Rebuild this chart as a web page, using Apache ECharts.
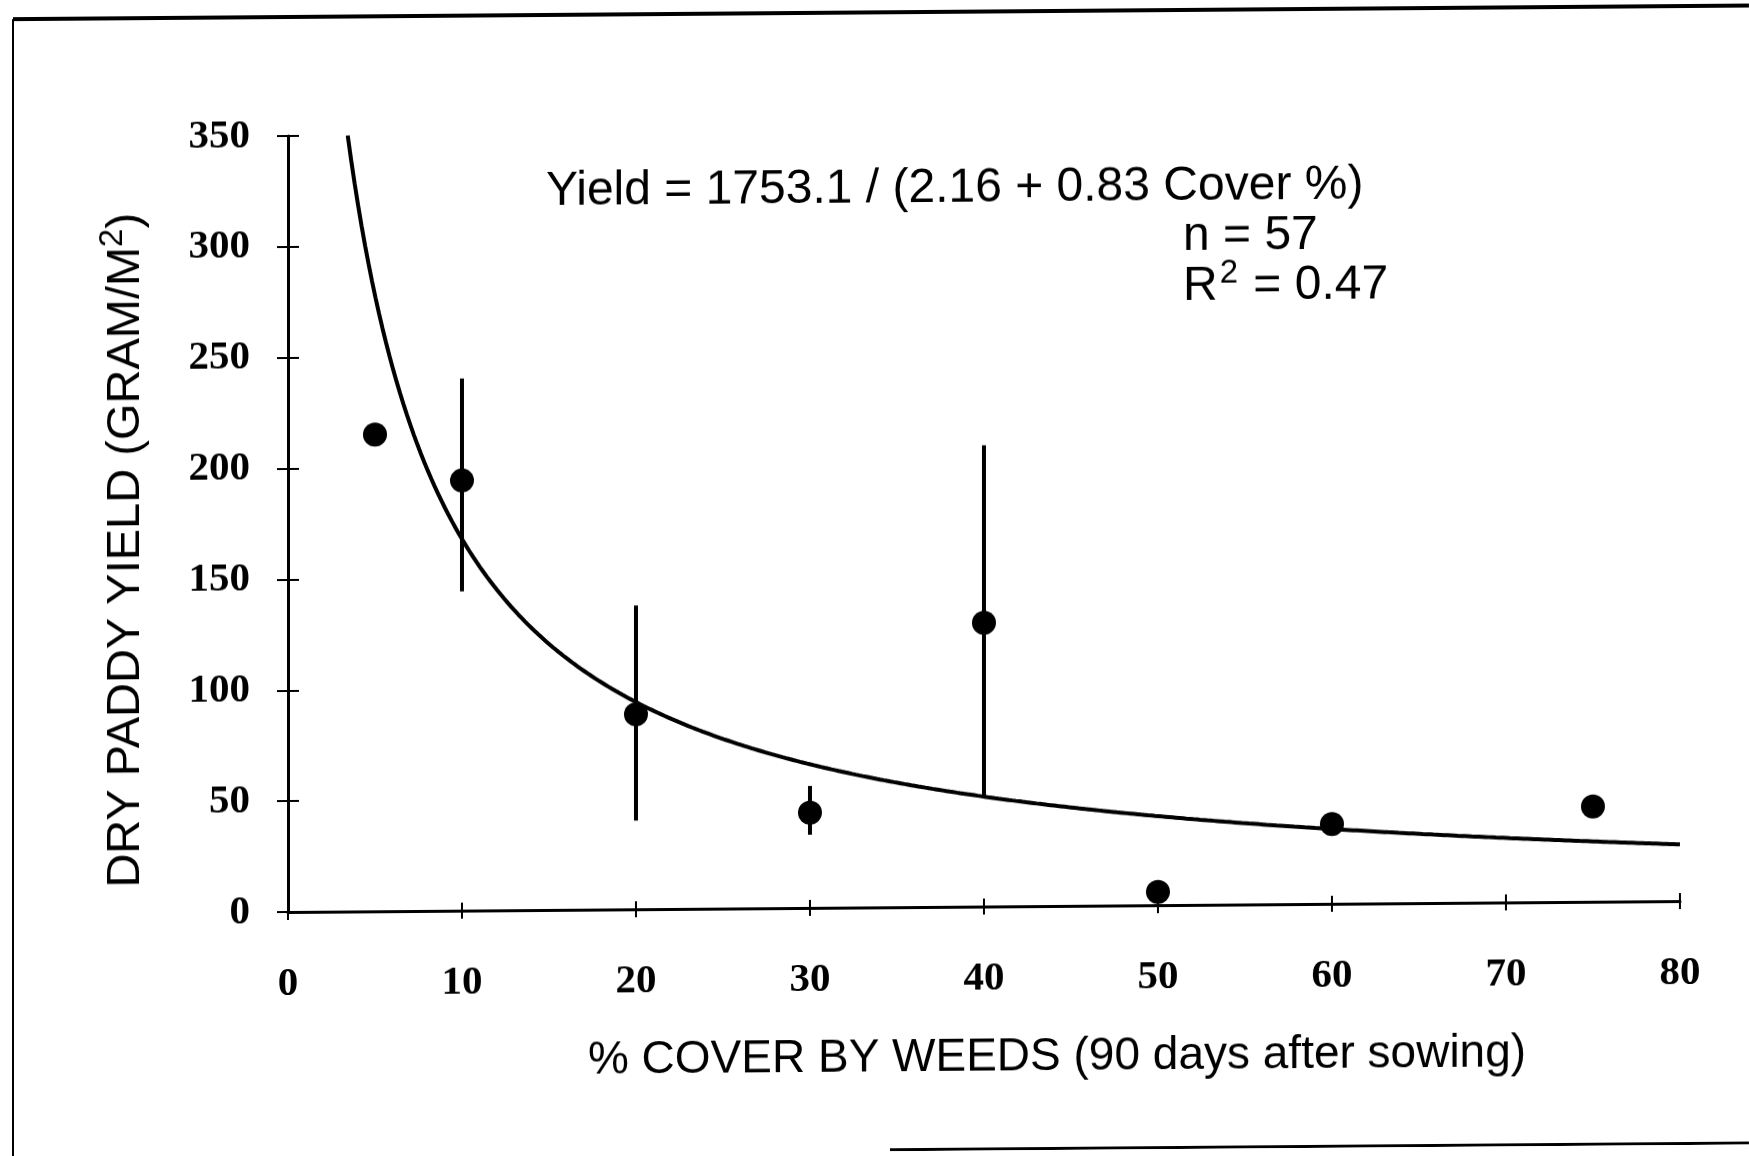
<!DOCTYPE html>
<html>
<head>
<meta charset="utf-8">
<script src="https://cdn.jsdelivr.net/npm/echarts@6/dist/echarts.min.js"></script>
<style>
  html, body { margin: 0; padding: 0; background: #ffffff; }
  #chart {
    width: 1749px; height: 1156px;
    /* the printed figure leans slightly: right side sits higher */
    transform: skewY(-0.45deg);
    transform-origin: 288px 912px;
  }
</style>
</head>
<body>
<div id="chart"></div>
<script>
// Mean dry paddy yield per weed-cover class
const cover = [5, 10, 20, 30, 40, 50, 60, 75];
const yieldMean = [215, 194, 88, 43, 128, 6, 36, 43];
// Range bars (only some classes have them)
const barCover = [10, 20, 30, 40];
const barLow = [144, 40, 33, 50];
const barHigh = [240, 137, 55, 208];

// Fitted model: Yield = A / (B + C * Cover%)
const fitA = 1753.1;
const fitB = 2.16;
const fitC = 0.83;
const fitN = 57;
const fitR2 = 0.47;

const xTicks = [0, 10, 20, 30, 40, 50, 60, 70, 80];
const yTicks = [0, 50, 100, 150, 200, 250, 300, 350];

const xMin = xTicks[0], xMax = xTicks[xTicks.length - 1];
const yMin = yTicks[0], yMax = yTicks[yTicks.length - 1];

// Curve drawn from the fitted equation, starting where it enters the plot top
const curve = [];
const xStart = (fitA / yMax - fitB) / fitC;
for (let x = xStart; x <= xMax + 1e-9; x += 0.2) {
  curve.push([x, fitA / (fitB + fitC * x)]);
}
curve.push([xMax, fitA / (fitB + fitC * xMax)]);

const points = cover.map((c, i) => [c, yieldMean[i]]);
const bars = barCover.map((c, i) => [c, barLow[i], barHigh[i]]);

const chart = echarts.init(document.getElementById('chart'), null, { renderer: 'canvas' });

const tickFont = {
  fontFamily: '"Liberation Serif", "Times New Roman", serif',
  fontWeight: 'bold',
  fontSize: 41,
  color: '#000'
};
const sansFont = '"Liberation Sans", Arial, Helvetica, sans-serif';

const axisLineStyle = { color: '#000', width: 3 };

chart.setOption({
  backgroundColor: '#ffffff',
  animation: false,
  grid: { left: 288, right: 69, top: 136, bottom: 244 },
  xAxis: [
    {
      type: 'value', position: 'bottom', min: xMin, max: xMax, interval: 10,
      axisLine: { show: true, lineStyle: axisLineStyle },
      axisTick: { show: true, inside: false, length: 8, lineStyle: { color: '#000', width: 2 } },
      splitLine: { show: false },
      axisLabel: Object.assign({ margin: 52 }, tickFont),
      name: '% COVER BY WEEDS (90 days after sowing)',
      nameLocation: 'middle',
      nameGap: 128,
      nameTextStyle: { fontFamily: sansFont, fontSize: 46, color: '#000', padding: [0, 0, 0, 146] }
    },
    {
      type: 'value', position: 'bottom', min: xMin, max: xMax, interval: 10,
      axisLine: { show: false },
      axisTick: { show: true, inside: true, length: 8, lineStyle: { color: '#000', width: 2 } },
      splitLine: { show: false },
      axisLabel: { show: false }
    }
  ],
  yAxis: [
    {
      type: 'value', position: 'left', min: yMin, max: yMax, interval: 50,
      axisLine: { show: true, lineStyle: axisLineStyle },
      axisTick: { show: true, inside: false, length: 11, lineStyle: { color: '#000', width: 2 } },
      splitLine: { show: false },
      axisLabel: Object.assign({ margin: 38 }, tickFont),
      name: 'DRY PADDY YIELD (GRAM/M{sup|2})',
      nameLocation: 'middle',
      nameGap: 131,
      nameRotate: 90,
      nameTextStyle: {
        fontFamily: sansFont, fontSize: 47, color: '#000',
        padding: [0, 50, 0, 0],
        rich: {
          sup: { fontFamily: sansFont, fontSize: 33, color: '#000', verticalAlign: 'top', padding: [0, 0, 28, 0] }
        }
      }
    },
    {
      type: 'value', position: 'left', min: yMin, max: yMax, interval: 50,
      axisLine: { show: false },
      axisTick: { show: true, inside: true, length: 11, lineStyle: { color: '#000', width: 2 } },
      splitLine: { show: false },
      axisLabel: { show: false }
    }
  ],
  series: [
    {
      type: 'line',
      name: 'fit',
      xAxisIndex: 0, yAxisIndex: 0,
      data: curve,
      showSymbol: false,
      smooth: false,
      lineStyle: { color: '#000', width: 4 },
      z: 3
    },
    {
      type: 'custom',
      name: 'range',
      xAxisIndex: 0, yAxisIndex: 0,
      data: bars,
      renderItem: function (params, api) {
        const p1 = api.coord([api.value(0), api.value(1)]);
        const p2 = api.coord([api.value(0), api.value(2)]);
        return {
          type: 'line',
          shape: { x1: p1[0], y1: p1[1], x2: p2[0], y2: p2[1] },
          style: { stroke: '#000', lineWidth: 4 }
        };
      },
      z: 4
    },
    {
      type: 'scatter',
      name: 'yield',
      xAxisIndex: 0, yAxisIndex: 0,
      data: points,
      symbol: 'circle',
      symbolSize: 24,
      itemStyle: { color: '#000', opacity: 1 },
      z: 5
    }
  ],
  graphic: [
    // page frame: top edge, left edge, and the visible part of the bottom edge
    {
      type: 'line', silent: true,
      shape: { x1: 13, y1: 17, x2: 1760, y2: 17 },
      style: { stroke: '#000', lineWidth: 4 }
    },
    {
      type: 'line', silent: true,
      shape: { x1: 13, y1: 17, x2: 13, y2: 1170 },
      style: { stroke: '#000', lineWidth: 2 }
    },
    {
      type: 'line', silent: true,
      shape: { x1: 890, y1: 1155, x2: 1760, y2: 1155 },
      style: { stroke: '#000', lineWidth: 4 }
    },
    {
      type: 'text',
      left: 546, top: 170,
      style: {
        text: 'Yield = ' + fitA.toFixed(1) + ' / (' + fitB.toFixed(2) + ' + ' + fitC.toFixed(2) + ' Cover %)',
        font: '48px ' + sansFont,
        fill: '#000'
      }
    },
    {
      type: 'text',
      left: 1183, top: 220,
      style: {
        text: 'n = ' + fitN,
        font: '48px ' + sansFont,
        fill: '#000'
      }
    },
    {
      type: 'text',
      left: 1183, top: 264,
      style: {
        text: 'R{sup|2} = ' + fitR2.toFixed(2),
        font: '48px ' + sansFont,
        fill: '#000',
        rich: {
          sup: { font: '33px ' + sansFont, fill: '#000', verticalAlign: 'top', padding: [0, 2, 26, 2] }
        }
      }
    }
  ]
});
</script>
</body>
</html>
